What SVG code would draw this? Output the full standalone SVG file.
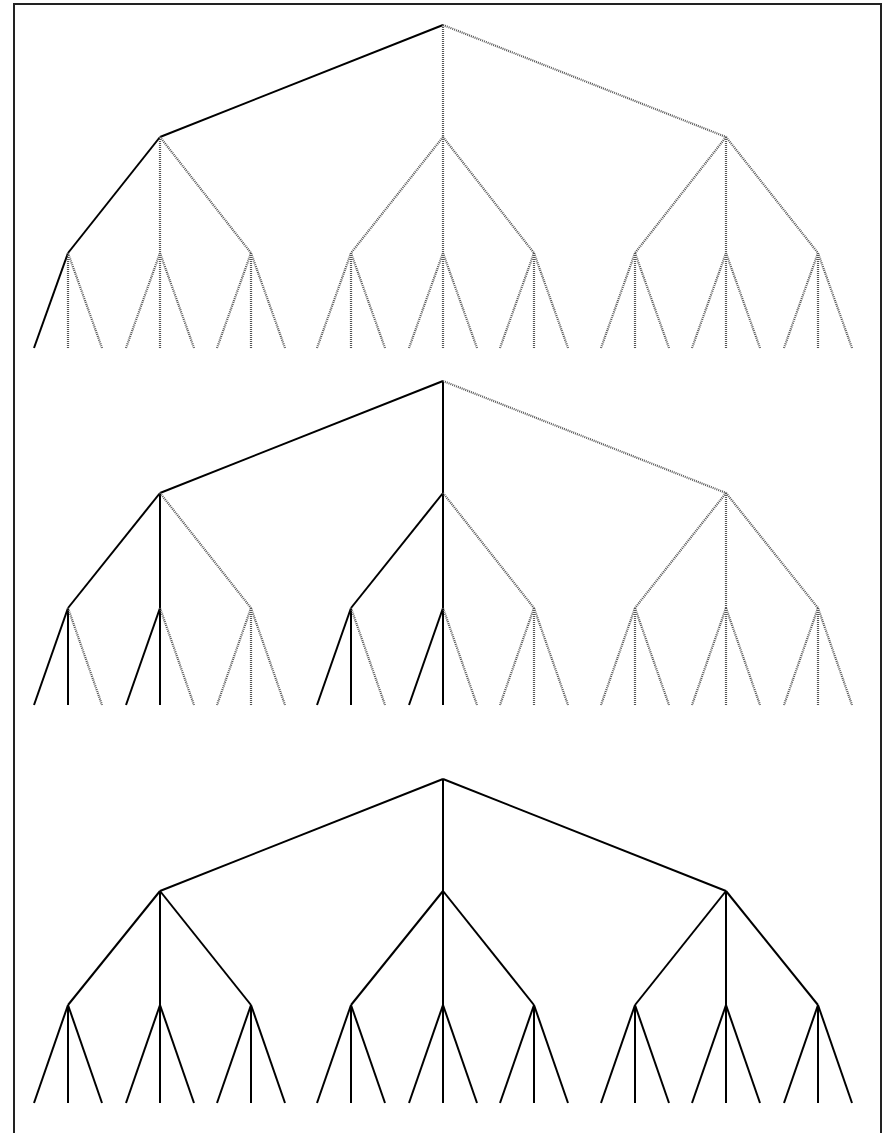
<svg xmlns="http://www.w3.org/2000/svg" width="890" height="1133" viewBox="0 0 890 1133">
<style>
.b{stroke:#000;stroke-width:2;fill:none}
.g{stroke:#555;stroke-width:2.2;stroke-dasharray:1 1;fill:none}
.frame{fill:none;stroke:#222;stroke-width:2}
</style>
<rect class="frame" x="14" y="4" width="867" height="1140"/>
<g id="connectors">
<g id="tree1">
<line class="b" x1="443" y1="25" x2="160" y2="137"/>
<line class="g" x1="443" y1="25" x2="443" y2="137"/>
<line class="g" x1="443" y1="25" x2="726" y2="137"/>
<line class="b" x1="160" y1="137" x2="68" y2="253"/>
<line class="g" x1="160" y1="137" x2="160" y2="253"/>
<line class="g" x1="160" y1="137" x2="251" y2="253"/>
<line class="g" x1="443" y1="137" x2="351" y2="253"/>
<line class="g" x1="443" y1="137" x2="443" y2="253"/>
<line class="g" x1="443" y1="137" x2="534" y2="253"/>
<line class="g" x1="726" y1="137" x2="635" y2="253"/>
<line class="g" x1="726" y1="137" x2="726" y2="253"/>
<line class="g" x1="726" y1="137" x2="818" y2="253"/>
<line class="b" x1="68" y1="253" x2="34" y2="348"/>
<line class="g" x1="68" y1="253" x2="68" y2="348"/>
<line class="g" x1="68" y1="253" x2="102" y2="348"/>
<line class="g" x1="160" y1="253" x2="126" y2="348"/>
<line class="g" x1="160" y1="253" x2="160" y2="348"/>
<line class="g" x1="160" y1="253" x2="194" y2="348"/>
<line class="g" x1="251" y1="253" x2="217" y2="348"/>
<line class="g" x1="251" y1="253" x2="251" y2="348"/>
<line class="g" x1="251" y1="253" x2="285" y2="348"/>
<line class="g" x1="351" y1="253" x2="317" y2="348"/>
<line class="g" x1="351" y1="253" x2="351" y2="348"/>
<line class="g" x1="351" y1="253" x2="385" y2="348"/>
<line class="g" x1="443" y1="253" x2="409" y2="348"/>
<line class="g" x1="443" y1="253" x2="443" y2="348"/>
<line class="g" x1="443" y1="253" x2="477" y2="348"/>
<line class="g" x1="534" y1="253" x2="500" y2="348"/>
<line class="g" x1="534" y1="253" x2="534" y2="348"/>
<line class="g" x1="534" y1="253" x2="568" y2="348"/>
<line class="g" x1="635" y1="253" x2="601" y2="348"/>
<line class="g" x1="635" y1="253" x2="635" y2="348"/>
<line class="g" x1="635" y1="253" x2="669" y2="348"/>
<line class="g" x1="726" y1="253" x2="692" y2="348"/>
<line class="g" x1="726" y1="253" x2="726" y2="348"/>
<line class="g" x1="726" y1="253" x2="760" y2="348"/>
<line class="g" x1="818" y1="253" x2="784" y2="348"/>
<line class="g" x1="818" y1="253" x2="818" y2="348"/>
<line class="g" x1="818" y1="253" x2="852" y2="348"/>
</g>
<g id="tree2">
<line class="b" x1="443" y1="381" x2="160" y2="493"/>
<line class="b" x1="443" y1="381" x2="443" y2="493"/>
<line class="g" x1="443" y1="381" x2="726" y2="493"/>
<line class="b" x1="160" y1="493" x2="68" y2="608"/>
<line class="b" x1="160" y1="493" x2="160" y2="608"/>
<line class="g" x1="160" y1="493" x2="251" y2="608"/>
<line class="b" x1="443" y1="493" x2="351" y2="608"/>
<line class="b" x1="443" y1="493" x2="443" y2="608"/>
<line class="g" x1="443" y1="493" x2="534" y2="608"/>
<line class="g" x1="726" y1="493" x2="635" y2="608"/>
<line class="g" x1="726" y1="493" x2="726" y2="608"/>
<line class="g" x1="726" y1="493" x2="818" y2="608"/>
<line class="b" x1="68" y1="608" x2="34" y2="705"/>
<line class="b" x1="68" y1="608" x2="68" y2="705"/>
<line class="g" x1="68" y1="608" x2="102" y2="705"/>
<line class="b" x1="160" y1="608" x2="126" y2="705"/>
<line class="b" x1="160" y1="608" x2="160" y2="705"/>
<line class="g" x1="160" y1="608" x2="194" y2="705"/>
<line class="g" x1="251" y1="608" x2="217" y2="705"/>
<line class="g" x1="251" y1="608" x2="251" y2="705"/>
<line class="g" x1="251" y1="608" x2="285" y2="705"/>
<line class="b" x1="351" y1="608" x2="317" y2="705"/>
<line class="b" x1="351" y1="608" x2="351" y2="705"/>
<line class="g" x1="351" y1="608" x2="385" y2="705"/>
<line class="b" x1="443" y1="608" x2="409" y2="705"/>
<line class="b" x1="443" y1="608" x2="443" y2="705"/>
<line class="g" x1="443" y1="608" x2="477" y2="705"/>
<line class="g" x1="534" y1="608" x2="500" y2="705"/>
<line class="g" x1="534" y1="608" x2="534" y2="705"/>
<line class="g" x1="534" y1="608" x2="568" y2="705"/>
<line class="g" x1="635" y1="608" x2="601" y2="705"/>
<line class="g" x1="635" y1="608" x2="635" y2="705"/>
<line class="g" x1="635" y1="608" x2="669" y2="705"/>
<line class="g" x1="726" y1="608" x2="692" y2="705"/>
<line class="g" x1="726" y1="608" x2="726" y2="705"/>
<line class="g" x1="726" y1="608" x2="760" y2="705"/>
<line class="g" x1="818" y1="608" x2="784" y2="705"/>
<line class="g" x1="818" y1="608" x2="818" y2="705"/>
<line class="g" x1="818" y1="608" x2="852" y2="705"/>
</g>
<g id="tree3">
<line class="b" x1="443" y1="779" x2="160" y2="891"/>
<line class="b" x1="443" y1="779" x2="443" y2="891"/>
<line class="b" x1="443" y1="779" x2="726" y2="891"/>
<line class="b" x1="160" y1="891" x2="68" y2="1005"/>
<line class="b" x1="160" y1="891" x2="160" y2="1005"/>
<line class="b" x1="160" y1="891" x2="251" y2="1005"/>
<line class="b" x1="443" y1="891" x2="351" y2="1005"/>
<line class="b" x1="443" y1="891" x2="443" y2="1005"/>
<line class="b" x1="443" y1="891" x2="534" y2="1005"/>
<line class="b" x1="726" y1="891" x2="635" y2="1005"/>
<line class="b" x1="726" y1="891" x2="726" y2="1005"/>
<line class="b" x1="726" y1="891" x2="818" y2="1005"/>
<line class="b" x1="68" y1="1005" x2="34" y2="1103"/>
<line class="b" x1="68" y1="1005" x2="68" y2="1103"/>
<line class="b" x1="68" y1="1005" x2="102" y2="1103"/>
<line class="b" x1="160" y1="1005" x2="126" y2="1103"/>
<line class="b" x1="160" y1="1005" x2="160" y2="1103"/>
<line class="b" x1="160" y1="1005" x2="194" y2="1103"/>
<line class="b" x1="251" y1="1005" x2="217" y2="1103"/>
<line class="b" x1="251" y1="1005" x2="251" y2="1103"/>
<line class="b" x1="251" y1="1005" x2="285" y2="1103"/>
<line class="b" x1="351" y1="1005" x2="317" y2="1103"/>
<line class="b" x1="351" y1="1005" x2="351" y2="1103"/>
<line class="b" x1="351" y1="1005" x2="385" y2="1103"/>
<line class="b" x1="443" y1="1005" x2="409" y2="1103"/>
<line class="b" x1="443" y1="1005" x2="443" y2="1103"/>
<line class="b" x1="443" y1="1005" x2="477" y2="1103"/>
<line class="b" x1="534" y1="1005" x2="500" y2="1103"/>
<line class="b" x1="534" y1="1005" x2="534" y2="1103"/>
<line class="b" x1="534" y1="1005" x2="568" y2="1103"/>
<line class="b" x1="635" y1="1005" x2="601" y2="1103"/>
<line class="b" x1="635" y1="1005" x2="635" y2="1103"/>
<line class="b" x1="635" y1="1005" x2="669" y2="1103"/>
<line class="b" x1="726" y1="1005" x2="692" y2="1103"/>
<line class="b" x1="726" y1="1005" x2="726" y2="1103"/>
<line class="b" x1="726" y1="1005" x2="760" y2="1103"/>
<line class="b" x1="818" y1="1005" x2="784" y2="1103"/>
<line class="b" x1="818" y1="1005" x2="818" y2="1103"/>
<line class="b" x1="818" y1="1005" x2="852" y2="1103"/>
</g>
</g>
</svg>
